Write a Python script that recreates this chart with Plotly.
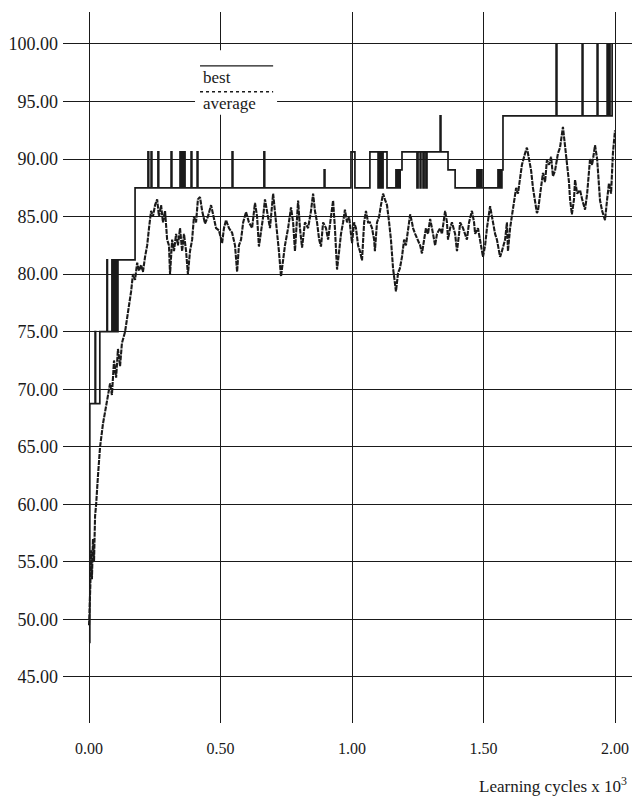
import plotly.graph_objects as go

# ---- data (x in thousands of learning cycles, y in %) ----
best_x = [0.000, 0.003, 0.023, 0.025, 0.041, 0.068, 0.070, 0.087, 0.091, 0.095, 0.099,
          0.103, 0.106, 0.110, 0.175,
          0.224, 0.227, 0.236, 0.239, 0.262, 0.265, 0.312, 0.315,
          0.346, 0.348, 0.350, 0.352, 0.354, 0.356, 0.358, 0.360, 0.363, 0.365,
          0.388, 0.391, 0.411, 0.414, 0.544, 0.547, 0.665, 0.668, 0.894, 0.897,
          0.996, 1.011, 1.068, 1.099, 1.103, 1.106, 1.110, 1.114, 1.118, 1.133,
          1.167, 1.171, 1.175, 1.179, 1.183, 1.190,
          1.247, 1.251, 1.259, 1.262, 1.270, 1.274, 1.281, 1.285,
          1.335, 1.338, 1.365, 1.392,
          1.475, 1.479, 1.483, 1.487, 1.491, 1.494,
          1.555, 1.559, 1.563, 1.567, 1.570, 1.574,
          1.776, 1.779, 1.875, 1.878, 1.932, 1.935, 1.970, 1.973, 1.977, 1.981, 1.989, 1.991]
best_y = [48.0, 68.75, 75.0, 68.75, 75.0, 81.25, 75.0, 81.25, 75.0, 81.25, 75.0,
          81.25, 75.0, 81.25, 87.5,
          90.625, 87.5, 90.625, 87.5, 90.625, 87.5, 90.625, 87.5,
          90.625, 87.5, 90.625, 87.5, 90.625, 87.5, 90.625, 87.5, 90.625, 87.5,
          90.625, 87.5, 90.625, 87.5, 90.625, 87.5, 90.625, 87.5, 89.0625, 87.5,
          90.625, 87.5, 90.625, 87.5, 90.625, 87.5, 90.625, 87.5, 90.625, 87.5,
          89.0625, 87.5, 89.0625, 87.5, 89.0625, 90.625,
          87.5, 90.625, 87.5, 90.625, 87.5, 90.625, 87.5, 90.625,
          93.75, 90.625, 89.0625, 87.5,
          89.0625, 87.5, 89.0625, 87.5, 89.0625, 87.5,
          89.0625, 87.5, 89.0625, 87.5, 89.0625, 93.75,
          100.0, 93.75, 100.0, 93.75, 100.0, 93.75, 100.0, 93.75, 100.0, 93.75, 100.0, 100.0]

avg_x = [0.000, 0.003, 0.005, 0.008, 0.011, 0.015, 0.019, 0.023, 0.027, 0.034, 0.042,
         0.053, 0.065, 0.072, 0.080, 0.087, 0.095, 0.103, 0.110, 0.118, 0.125, 0.137,
         0.148, 0.160, 0.167, 0.175, 0.183, 0.190, 0.198, 0.205, 0.213, 0.221, 0.228,
         0.236, 0.243, 0.251, 0.259, 0.266, 0.274, 0.281, 0.289, 0.297, 0.304, 0.308,
         0.316, 0.323, 0.331, 0.338, 0.346, 0.354, 0.361, 0.369, 0.376, 0.384, 0.392,
         0.399, 0.407, 0.414, 0.422, 0.430, 0.441, 0.452, 0.464, 0.471, 0.483, 0.494,
         0.506, 0.513, 0.521, 0.532, 0.544, 0.555, 0.563, 0.570, 0.578, 0.586, 0.597,
         0.608, 0.620, 0.631, 0.639, 0.646, 0.654, 0.662, 0.669, 0.677, 0.688, 0.700,
         0.707, 0.715, 0.722, 0.730, 0.738, 0.745, 0.757, 0.768, 0.776, 0.783, 0.795,
         0.802, 0.810, 0.821, 0.833, 0.844, 0.852, 0.859, 0.867, 0.875, 0.882, 0.890,
         0.901, 0.909, 0.920, 0.928, 0.935, 0.943, 0.951, 0.958, 0.966, 0.973, 0.981,
         0.989, 0.996, 1.000, 1.008, 1.015, 1.023, 1.030, 1.038, 1.046, 1.053, 1.061,
         1.068, 1.076, 1.084, 1.087, 1.095, 1.103, 1.110, 1.118, 1.125, 1.133, 1.141,
         1.148, 1.156, 1.163, 1.167, 1.175, 1.182, 1.190, 1.198, 1.205, 1.213, 1.221,
         1.228, 1.232, 1.240, 1.251, 1.259, 1.266, 1.274, 1.281, 1.289, 1.297, 1.304,
         1.316, 1.323, 1.335, 1.342, 1.354, 1.361, 1.365, 1.373, 1.380, 1.392, 1.399,
         1.407, 1.411, 1.422, 1.430, 1.437, 1.445, 1.456, 1.464, 1.468, 1.479, 1.487,
         1.498, 1.506, 1.513, 1.525, 1.532, 1.536, 1.544, 1.551, 1.563, 1.570, 1.582,
         1.589, 1.593, 1.601, 1.608, 1.616, 1.624, 1.631, 1.639, 1.646, 1.658, 1.665,
         1.673, 1.681, 1.688, 1.696, 1.703, 1.707, 1.715, 1.726, 1.734, 1.741, 1.749,
         1.757, 1.764, 1.772, 1.783, 1.791, 1.802, 1.810, 1.817, 1.825, 1.829, 1.836,
         1.844, 1.848, 1.856, 1.867, 1.875, 1.886, 1.894, 1.905, 1.913, 1.924, 1.932,
         1.939, 1.943, 1.951, 1.958, 1.962, 1.970, 1.977, 1.985, 1.992, 2.000]
avg_y = [49.5, 51.0, 53.0, 56.0, 53.5, 57.0, 55.0, 59.0, 60.0, 62.5, 65.0,
         67.0, 68.5, 69.5, 70.5, 69.5, 72.5, 71.0, 73.5, 72.0, 74.0, 75.0,
         76.5, 78.5, 80.0, 79.5, 81.0, 80.3, 80.8, 80.2, 81.5, 82.5, 84.0,
         85.5, 85.0, 86.0, 86.5, 85.0, 86.0, 84.5, 85.5, 83.0, 82.5, 80.0,
         83.0, 82.0, 83.5, 82.5, 84.0, 82.0, 83.5, 82.0, 80.0, 82.0, 83.0,
         85.0, 84.5, 86.5, 86.7, 85.5, 84.4, 85.0, 86.0, 85.2, 84.0, 83.8,
         82.7, 84.0, 84.7, 84.0, 83.6, 82.5, 80.2, 82.5, 83.0, 84.5, 85.4,
         84.5, 84.0, 86.2, 85.0, 82.4, 83.5, 85.0, 86.5, 85.5, 84.0, 87.0,
         85.5, 84.0, 82.0, 79.8, 81.5, 82.5, 84.0, 85.8, 84.5, 82.0, 86.4,
         84.0, 82.3, 84.5, 84.0, 85.5, 87.0, 85.5, 84.5, 83.0, 82.4, 84.5,
         84.0, 83.0, 85.0, 86.4, 84.0, 80.4, 82.0, 83.5, 84.5, 85.6, 84.5,
         85.0, 83.5, 82.7, 84.5, 84.0, 82.5, 82.0, 81.2, 84.5, 85.5, 84.5,
         84.5, 84.0, 83.0, 82.0, 84.5, 85.0, 86.0, 87.0, 86.5, 86.0, 84.5,
         83.0, 80.5, 78.9, 78.5, 80.1, 80.5, 81.5, 83.0, 82.5, 84.0, 85.2,
         84.5, 84.0, 83.5, 83.0, 82.5, 81.8, 83.0, 84.0, 83.5, 84.8, 84.0,
         82.5, 83.5, 84.0, 83.5, 85.5, 84.5, 83.0, 84.0, 84.5, 83.5, 82.0,
         83.5, 84.5, 84.0, 83.5, 83.0, 84.5, 85.5, 84.5, 83.5, 84.0, 83.0,
         81.5, 82.5, 84.0, 85.9, 85.0, 84.5, 83.5, 83.0, 81.5, 82.0, 83.0,
         84.5, 82.0, 84.0, 85.0, 86.5, 87.5, 87.0, 88.5, 89.5, 90.5, 91.0,
         90.0, 89.0, 87.5, 86.5, 85.3, 85.5, 87.0, 88.8, 88.0, 89.9, 89.5,
         90.2, 88.5, 89.0, 90.5, 91.0, 92.8, 91.0, 90.0, 88.0, 86.5, 85.2,
         86.5, 88.2, 87.0, 87.3, 86.5, 85.6, 87.0, 90.0, 89.5, 91.2, 90.0,
         88.0, 86.4, 85.5, 85.0, 84.7, 86.5, 87.9, 87.0, 90.5, 92.5]

x_ticks = [0.0, 0.5, 1.0, 1.5, 2.0]
y_ticks = [45, 50, 55, 60, 65, 70, 75, 80, 85, 90, 95, 100]
legend_labels = ["best", "average"]
x_title = "Learning cycles x 10<sup>3</sup>"

FONT = "Liberation Serif, Times New Roman, serif"
INK = "#1a1a1a"

fig = go.Figure()
fig.add_trace(go.Scatter(x=best_x, y=best_y, mode="lines", name=legend_labels[0],
                         line=dict(color=INK, width=1.7, shape="hv")))
fig.add_trace(go.Scatter(x=avg_x, y=avg_y, mode="lines", name=legend_labels[1],
                         line=dict(color=INK, width=2.1, dash="5px,1px")))

# legend drawn as in the original: a line above each label, on a white patch
fig.add_shape(type="rect", xref="x", yref="y", x0=0.403, x1=0.715, y0=93.85, y1=99.45,
              fillcolor="white", line=dict(width=0), layer="above")
fig.add_shape(type="line", xref="x", yref="y", x0=0.422, x1=0.700, y0=98.1, y1=98.1,
              line=dict(color=INK, width=1.3), layer="above")
fig.add_shape(type="line", xref="x", yref="y", x0=0.422, x1=0.700, y0=95.85, y1=95.85,
              line=dict(color=INK, width=1.3, dash="dot"), layer="above")
fig.add_annotation(x=0.427, y=97.05, xref="x", yref="y", text=legend_labels[0],
                   showarrow=False, xanchor="left", yanchor="middle",
                   font=dict(family=FONT, size=17, color=INK))
fig.add_annotation(x=0.427, y=94.85, xref="x", yref="y", text=legend_labels[1],
                   showarrow=False, xanchor="left", yanchor="middle",
                   font=dict(family=FONT, size=17, color=INK))

fig.add_annotation(x=0.717, y=-0.087, xref="paper", yref="paper", text=x_title,
                   showarrow=False, xanchor="left", yanchor="middle",
                   font=dict(family=FONT, size=17, color=INK))

# the page body adds an 8px offset, so the figure is 8px smaller than the window
fig.update_layout(
    width=632, height=789,
    margin=dict(l=55, r=0, t=4, b=74),
    paper_bgcolor="white", plot_bgcolor="white",
    showlegend=False,
    font=dict(family=FONT, size=16, color=INK),
)
fig.update_xaxes(range=[-0.099, 2.095], tickvals=x_ticks, tickformat=".2f",
                 showgrid=True, gridcolor=INK, gridwidth=1.3, zeroline=False,
                 showline=False, ticks="", ticklabelstandoff=14, automargin=False,
                 tickfont=dict(family=FONT, size=16, color=INK))
fig.update_yaxes(range=[41.0, 102.78], tickvals=y_ticks, tickformat=".2f",
                 showgrid=True, gridcolor=INK, gridwidth=1.3, zeroline=False,
                 showline=False, ticks="", ticklabelstandoff=4, automargin=False,
                 tickfont=dict(family=FONT, size=18, color=INK))

fig.write_html("out.html")
